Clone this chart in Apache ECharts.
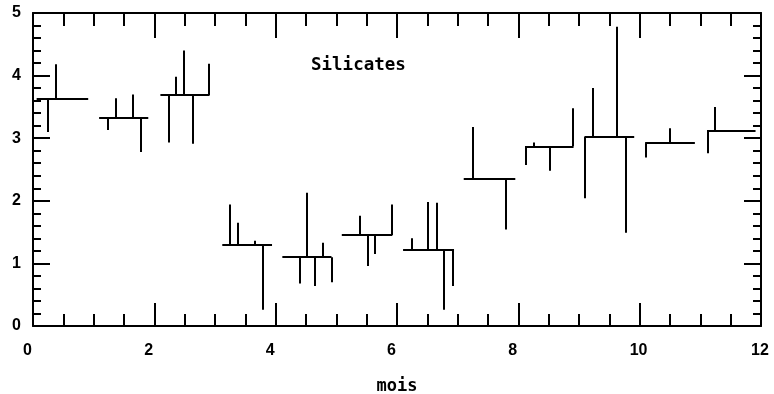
<!DOCTYPE html>
<html>
<head>
<meta charset="utf-8">
<script src="https://cdn.jsdelivr.net/npm/echarts@6/dist/echarts.min.js"></script>
<style>
html,body{margin:0;padding:0;background:#fff;}
#chart{width:774px;height:394px;}
</style>
</head>
<body>
<div id="chart"></div>
<script>
// Monthly mean segments
const monthStart = [0.06, 1.09, 2.10, 3.12, 4.11, 5.09, 6.10, 7.10, 8.11, 9.09, 10.09, 11.11];
const monthEnd   = [0.91, 1.90, 2.91, 3.94, 4.92, 5.92, 6.94, 7.95, 8.91, 9.91, 10.91, 11.91];
const monthMean  = [3.63, 3.32, 3.69, 1.30, 1.10, 1.45, 1.22, 2.35, 2.87, 3.02, 2.92, 3.12];

// Individual observations: month index, time (months), value
const obsMonth = [0,0, 1,1,1,1, 2,2,2,2,2, 3,3,3,3, 4,4,4,4,4, 5,5,5,5, 6,6,6,6,6, 7,7, 8,8,8,8, 9,9,9,9, 10,10, 11,11];
const obsX = [0.25,0.37, 1.24,1.36,1.64,1.78, 2.23,2.36,2.49,2.63,2.90, 3.25,3.38,3.65,3.79,
              4.39,4.52,4.65,4.78,4.92, 5.39,5.52,5.64,5.92, 6.24,6.51,6.65,6.77,6.92,
              7.25,7.80, 8.12,8.25,8.51,8.89, 9.10,9.22,9.62,9.77, 10.10,10.49, 11.12,11.24];
const obsY = [3.10,4.18, 3.13,3.64,3.70,2.78, 2.93,3.98,4.40,2.91,4.19, 1.94,1.65,1.36,0.26,
              0.68,2.13,0.64,1.33,0.70, 1.76,0.96,1.15,1.94, 1.40,1.98,1.97,0.26,0.64,
              3.18,1.54, 2.57,2.93,2.48,3.48, 2.04,3.80,4.78,1.49, 2.69,3.16, 2.76,3.50];

const xTicks = [0, 2, 4, 6, 8, 10, 12];
const yTicks = [0, 1, 2, 3, 4, 5];

const segs = [];
for (let i = 0; i < monthMean.length; i++) {
  segs.push({coords: [[monthStart[i], monthMean[i]], [monthEnd[i], monthMean[i]]]});
}
for (let j = 0; j < obsX.length; j++) {
  const m = monthMean[obsMonth[j]];
  segs.push({coords: [[obsX[j], m], [obsX[j], obsY[j]]]});
}

const chart = echarts.init(document.getElementById('chart'), null, {renderer: 'canvas'});
const lbl = {fontFamily: 'Liberation Sans', fontWeight: 'bold', fontSize: 16, color: '#000'};
const axLine = {show: true, onZero: false, lineStyle: {color: '#000', width: 2}};
function xAxisDef(pos, tickLen, minorLen, showLabel) {
  return {
    type: 'value', position: pos, min: xTicks[0], max: xTicks[xTicks.length - 1], interval: 2,
    axisLine: axLine,
    axisTick: {show: true, inside: true, length: tickLen, lineStyle: {color: '#000', width: 2}},
    minorTick: {show: true, splitNumber: 4, length: minorLen, lineStyle: {color: '#000', width: 2}},
    splitLine: {show: false},
    axisLabel: Object.assign({show: showLabel, margin: 17, align: 'left', padding: [0, 0, 0, -10]}, lbl),
    name: showLabel ? 'mois' : '',
    nameLocation: 'middle', nameGap: 52,
    nameTextStyle: {fontFamily: 'DejaVu Sans Mono', fontWeight: 'bold', fontSize: 17, color: '#000'}
  };
}
function yAxisDef(pos, showLabel) {
  return {
    type: 'value', position: pos, min: yTicks[0], max: yTicks[yTicks.length - 1], interval: 1,
    axisLine: axLine,
    axisTick: {show: true, inside: true, length: 17, lineStyle: {color: '#000', width: 2}},
    minorTick: {show: true, splitNumber: 5, length: 8, lineStyle: {color: '#000', width: 2}},
    splitLine: {show: false},
    axisLabel: Object.assign({show: showLabel, margin: 12}, lbl)
  };
}

chart.setOption({
  animation: false,
  backgroundColor: '#fff',
  grid: {left: 33, right: 13, top: 13, bottom: 68, containLabel: false, outerBoundsMode: 'none'},
  xAxis: [xAxisDef('bottom', 23, 12, true), xAxisDef('top', 25, 13, false)],
  yAxis: [yAxisDef('left', true), yAxisDef('right', false)],
  graphic: [{
    type: 'text', left: 311, top: 56,
    style: {text: 'Silicates', fontFamily: 'DejaVu Sans Mono', fontWeight: 'bold', fontSize: 17.5, fill: '#000'}
  }],
  series: [{
    type: 'lines', coordinateSystem: 'cartesian2d', xAxisIndex: 0, yAxisIndex: 0,
    polyline: false, silent: true,
    lineStyle: {color: '#000', width: 2, opacity: 1},
    data: segs
  }]
});
</script>
</body>
</html>
